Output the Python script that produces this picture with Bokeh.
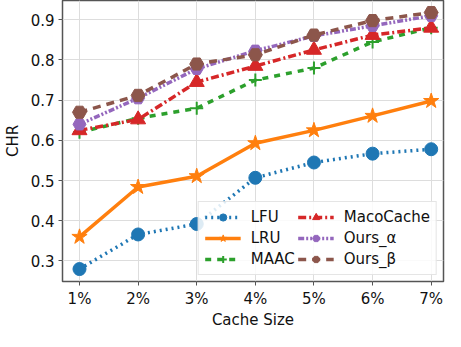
from bokeh.plotting import figure
from bokeh.models import Legend, LegendItem, FixedTicker, Range1d
from bokeh.embed import file_html
from bokeh.resources import INLINE

x_labels = ["1%", "2%", "3%", "4%", "5%", "6%", "7%"]
x_vals = [1, 2, 3, 4, 5, 6, 7]
lfu = [0.280, 0.366, 0.392, 0.507, 0.545, 0.567, 0.578]
lru = [0.360, 0.484, 0.511, 0.593, 0.625, 0.661, 0.698]
maac = [0.620, 0.655, 0.680, 0.750, 0.780, 0.845, 0.880]
maco = [0.625, 0.652, 0.745, 0.785, 0.825, 0.862, 0.880]
ours_a = [0.640, 0.705, 0.778, 0.823, 0.860, 0.885, 0.910]
ours_b = [0.670, 0.712, 0.790, 0.813, 0.862, 0.898, 0.918]
y_ticks = [0.3, 0.4, 0.5, 0.6, 0.7, 0.8, 0.9]

FONT = "DejaVu Sans"
FS = "15px"
p = figure(width=445, height=331, output_backend="svg", toolbar_location=None,
           x_range=Range1d(0.71, 7.21), y_range=Range1d(0.249, 0.948),
           min_border_top=0, min_border_right=2, min_border_left=4, min_border_bottom=0)

p.xaxis.ticker = FixedTicker(ticks=x_vals)
p.xaxis.major_label_overrides = {v: l for v, l in zip(x_vals, x_labels)}
p.yaxis.ticker = FixedTicker(ticks=y_ticks)
for ax in (p.xaxis[0], p.yaxis[0]):
    ax.major_label_text_font = FONT
    ax.major_label_text_font_size = FS
    ax.major_label_text_color = "#111111"
    ax.axis_label_text_font = FONT
    ax.axis_label_text_font_size = FS
    ax.axis_label_text_font_style = "normal"
    ax.axis_label_text_color = "#111111"
    ax.axis_line_color = None
    ax.major_tick_line_color = "#555555"
    ax.major_tick_out = 4
    ax.major_tick_in = 0
    ax.minor_tick_line_color = None
    ax.major_label_standoff = 4
p.xaxis.axis_label = "Cache Size"
p.yaxis.axis_label = "CHR"
p.xaxis.axis_label_standoff = 0
p.yaxis.axis_label_standoff = 6
p.grid.grid_line_color = "#dddddd"
p.grid.grid_line_width = 1
p.outline_line_color = "#555555"
p.outline_line_width = 1.5

series = [
    ("LFU", lfu, "#1f77b4", "dotted", "circle", 13),
    ("LRU", lru, "#ff7f0e", "solid", "star", 16),
    ("MAAC", maac, "#2ca02c", "dashed", "cross", 13),
    ("MacoCache", maco, "#d62728", "8 3 2 3", "triangle", 15),
    ("Ours_α", ours_a, "#9467bd", "6 2 2 2 2 2", "hex", 13),
    ("Ours_β", ours_b, "#8c564b", "8 6", "hex", 14),
]
items = []
for name, ys, col, dash, marker, size in series:
    r1 = p.line(x_vals, ys, line_color=col, line_width=3.5, line_dash=dash)
    r2 = p.scatter(x_vals, ys, marker=marker, size=size, fill_color=col, line_color=col,
                   line_width=2 if marker == "cross" else 1)
    items.append(LegendItem(label=name, renderers=[r1, r2]))

legend = Legend(items=items, location="bottom_right", ncols=2,
                label_text_font=FONT, label_text_font_size=FS,
                label_text_color="#111111",
                glyph_width=36, glyph_height=18, spacing=3,
                label_standoff=10, padding=6, margin=6,
                border_line_color="#cccccc", background_fill_alpha=0.85)
p.add_layout(legend)

open("out.html", "w").write(file_html(p, INLINE))
